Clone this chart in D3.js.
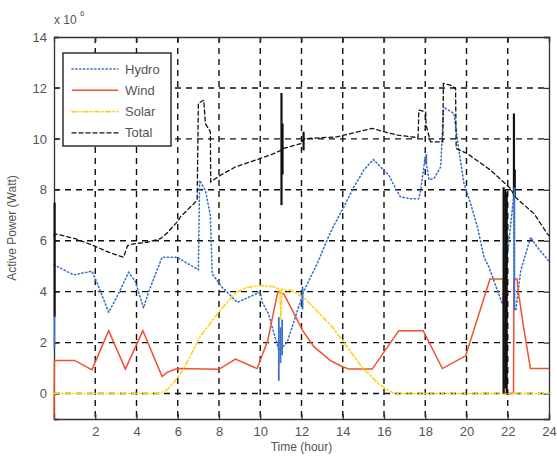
<!DOCTYPE html>
<html lang="en">
  <head>
    <meta charset="UTF-8" />
    <title>Active power</title>
    <style>
      body { margin: 0; background: #fff; }
      svg text { font-family: "Liberation Sans", Arial, sans-serif; fill: #555; }
    </style>
  </head>
  <body>
    <svg width="557" height="457"></svg>

    <script src="https://cdn.jsdelivr.net/npm/d3@7"></script>
    <script>
      // values, [hour, power x 10^6 W]
      const xTicks = [2, 4, 6, 8, 10, 12, 14, 16, 18, 20, 22, 24];
      const yTicks = [0, 2, 4, 6, 8, 10, 12, 14];

      const hydro = [[0,5.05],[0.95,4.66],[1.84,4.8],[2.08,4.37],[2.65,3.19],[3.05,3.8],[3.62,4.76],[3.94,4.4],[4.34,3.36],[4.59,4.0],[5.24,5.35],[5.97,5.35],[7.0,4.86],[7.06,8.37],[7.34,7.98],[7.58,7.0],[7.67,4.7],[8.15,4.17],[8.4,3.98],[8.88,3.58],[10.0,3.98],[10.1,3.58],[10.4,3.13],[10.9,1.7],[11.3,2.0],[12.1,4.0],[12.76,5.1],[13.3,6.14],[13.57,6.6],[14.05,7.32],[14.54,8.11],[15.02,8.77],[15.48,9.19],[15.92,8.83],[16.24,8.57],[16.48,8.18],[16.8,7.72],[17.29,7.65],[17.69,7.65],[17.78,8.0],[18.0,9.3],[18.18,8.4],[18.42,8.44],[18.75,8.9],[18.88,11.13],[18.97,11.2],[19.39,11.0],[19.63,9.55],[19.88,8.24],[20.2,7.46],[20.53,6.54],[20.85,5.35],[21.09,4.96],[21.74,3.52],[22.28,7.7],[22.32,3.3],[22.39,3.26],[22.63,4.83],[23.11,6.14],[23.43,5.75],[24,5.2]];

      const wind = [[0,-1],[0.02,1.3],[1.0,1.3],[1.84,0.93],[2.65,2.47],[3.46,0.96],[4.31,2.47],[5.24,0.67],[5.48,0.83],[5.97,0.98],[7.99,0.95],[8.8,1.35],[9.85,0.98],[10.36,2.07],[10.85,4.0],[11.15,3.9],[12.06,2.47],[12.6,1.84],[13.4,1.29],[13.97,1.06],[14.3,0.96],[15.43,0.96],[16.72,2.47],[17.9,2.47],[18.83,0.98],[19.96,1.48],[21.14,4.5],[21.78,4.5],[21.8,0],[22.28,0],[22.3,4.5],[22.45,4.5],[22.53,3.9],[22.77,2.6],[23.1,0.98],[24,0.98]];

      const solar = [[0,0],[5.1,0],[5.5,0.15],[6.08,0.7],[6.5,1.3],[7.1,2.25],[7.99,3.2],[8.8,3.95],[9.3,4.15],[10.0,4.24],[10.6,4.2],[10.95,4.1],[11.0,2.9],[11.05,4.1],[11.5,4.05],[12.1,3.78],[12.8,3.2],[13.5,2.6],[14.0,2.07],[14.95,1.02],[15.75,0.37],[16.48,0],[24,0]];

      const total = [[0,6.2],[0.06,6.27],[1.03,6.08],[1.92,5.81],[2.65,5.55],[3.37,5.35],[3.57,5.81],[3.86,5.88],[4.51,5.94],[5.16,6.08],[5.48,6.3],[6.04,6.8],[6.12,6.93],[6.94,7.59],[7.0,11.4],[7.26,11.52],[7.34,10.6],[7.58,10.28],[7.6,8.31],[8.07,8.57],[8.8,8.9],[10.0,9.23],[10.65,9.42],[11.0,9.55],[11.1,9.62],[12.0,9.82],[12.1,10.0],[12.43,10.02],[13.73,10.08],[14.38,10.21],[15.43,10.41],[16.0,10.28],[16.65,10.15],[17.29,10.08],[17.65,10.05],[17.69,11.13],[18.02,11.06],[18.04,10.54],[18.26,9.88],[18.85,9.88],[18.88,12.18],[19.22,12.11],[19.47,11.98],[19.5,9.62],[20.04,9.42],[21.17,8.77],[22.14,8.05],[22.35,7.72],[23.28,7.06],[23.92,6.27],[24,6.2]];

      // short transients drawn solid: [hour, low, high]
      const hydroSpikes = [[0.02,1.75,3.06],[10.9,0.5,3.0],[10.98,1.2,2.6],[11.06,1.5,2.9],[12.05,3.3,4.2],[18.05,9.0,9.4],[22.32,3.3,8.1]];
      const totalSpikes = [[0.03,3.0,7.5],[11.03,7.4,11.8],[11.08,8.6,10.6],[12.1,9.55,10.28],[21.8,0,8.1],[21.88,0.2,8.0],[21.95,0,7.9],[22.3,7.7,11.0],[22.34,7.7,8.8]];

      const series = [
        { name: "Hydro", data: hydro, color: "#3a72c8", dash: "1.2,2.6", width: 1.6 },
        { name: "Wind", data: wind, color: "#f2502e", dash: null, width: 1.5 },
        { name: "Solar", data: solar, color: "#ffd21a", dash: "5,2.5,1.2,2.5", width: 1.6 },
        { name: "Total", data: total, color: "#111", dash: "4,3", width: 1.3 },
      ];

      const svg = d3.select("svg");
      const pLeft = 54, pTop = 37, pRight = 549, pBottom = 419;

      const x = d3.scaleLinear().domain([0, 24]).range([pLeft, pRight]);
      const y = d3.scaleLinear().domain([-1, 14]).range([pBottom, pTop]);

      // grid
      const grid = svg.append("g").attr("stroke", "#111").attr("stroke-width", 1.4)
        .attr("stroke-dasharray", "6,5");
      grid.selectAll(".gx").data(xTicks.filter((d) => d < 24)).enter().append("line")
        .attr("x1", (d) => x(d)).attr("x2", (d) => x(d)).attr("y1", pTop).attr("y2", pBottom);
      grid.selectAll(".gy").data(yTicks.filter((d) => d < 14)).enter().append("line")
        .attr("x1", pLeft).attr("x2", pRight).attr("y1", (d) => y(d)).attr("y2", (d) => y(d));

      // axes with inner ticks on all sides
      const axB = d3.axisBottom(x).tickValues(xTicks).tickSize(-5).tickPadding(8).tickFormat(d3.format("d"));
      const axT = d3.axisTop(x).tickValues(xTicks).tickSize(-5).tickFormat("");
      const axL = d3.axisLeft(y).tickValues(yTicks).tickSize(-5).tickPadding(7).tickFormat(d3.format("d"));
      const axR = d3.axisRight(y).tickValues(yTicks).tickSize(-5).tickFormat("");
      [
        [axB, `translate(0,${pBottom})`],
        [axT, `translate(0,${pTop})`],
        [axL, `translate(${pLeft},0)`],
        [axR, `translate(${pRight},0)`],
      ].forEach(([ax, tr]) => {
        const g = svg.append("g").attr("transform", tr).call(ax);
        g.select(".domain").attr("stroke", "#333").attr("stroke-width", 1.3);
        g.selectAll(".tick line").attr("stroke", "#333").attr("stroke-width", 1.3);
        g.selectAll(".tick text").attr("font-size", 13).attr("fill", "#555");
      });

      // series
      const line = d3.line().x((d) => x(d[0])).y((d) => y(d[1]));
      series.forEach((s) => {
        svg.append("path").datum(s.data)
          .attr("d", line)
          .attr("fill", "none")
          .attr("stroke", s.color)
          .attr("stroke-width", s.width)
          .attr("stroke-linecap", s.dash ? "round" : "butt")
          .attr("stroke-dasharray", s.dash);
      });

      function spikes(data, color, w) {
        svg.append("g").selectAll("line").data(data).enter().append("line")
          .attr("x1", (d) => x(d[0])).attr("x2", (d) => x(d[0]))
          .attr("y1", (d) => y(d[1])).attr("y2", (d) => y(d[2]))
          .attr("stroke", color).attr("stroke-width", w);
      }
      spikes(totalSpikes, "#111", 2.2);
      spikes(hydroSpikes, "#3a72c8", 1.8);

      svg.append("text").attr("x", 54).attr("y", 24).attr("font-size", 12).text("x 10");
      svg.append("text").attr("x", 80).attr("y", 16).attr("font-size", 8).text("6");

      svg.append("text").attr("x", x(12)).attr("y", 451).attr("text-anchor", "middle")
        .attr("font-size", 12).text("Time (hour)");
      svg.append("text").attr("transform", `translate(16,${y(6.5)}) rotate(-90)`)
        .attr("text-anchor", "middle").attr("font-size", 12).text("Active Power (Watt)");

      // legend
      const lg = svg.append("g");
      lg.append("rect").attr("x", 63).attr("y", 53).attr("width", 108).attr("height", 93)
        .attr("fill", "#fff").attr("stroke", "#111").attr("stroke-width", 1.3);
      series.forEach((s, i) => {
        const ly = 69 + i * 21.3;
        lg.append("line").attr("x1", 72).attr("x2", 118).attr("y1", ly).attr("y2", ly)
          .attr("stroke", s.color).attr("stroke-width", s.width)
          .attr("stroke-linecap", s.dash ? "round" : "butt")
          .attr("stroke-dasharray", s.dash);
        lg.append("text").attr("x", 125).attr("y", ly + 4.5).attr("font-size", 13)
          .attr("fill", "#444").text(s.name);
      });
    </script>
  </body>
</html>
